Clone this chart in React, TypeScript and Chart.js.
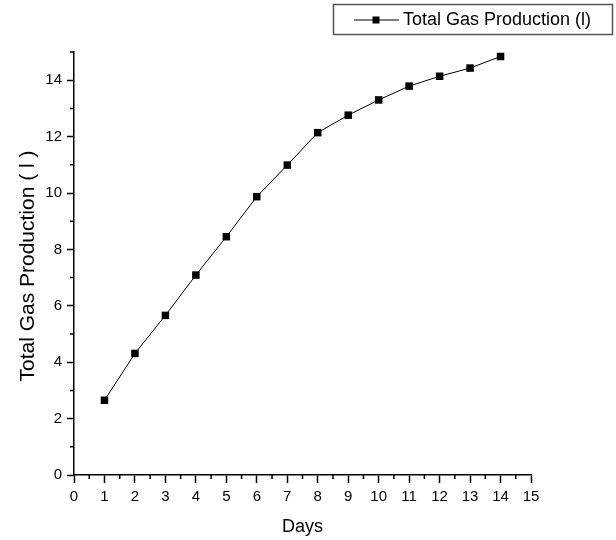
import React, { useEffect, useRef } from "react";
import { Chart, registerables } from "chart.js";

Chart.register(...registerables);

// Cumulative gas volume per day of the run
const days = [1, 2, 3, 4, 5, 6, 7, 8, 9, 10, 11, 12, 13, 14];
const totalGas = [2.65, 4.31, 5.66, 7.09, 8.45, 9.87, 10.99, 12.14, 12.76, 13.3, 13.79, 14.14, 14.43, 14.84];

const xTicks = [0, 1, 2, 3, 4, 5, 6, 7, 8, 9, 10, 11, 12, 13, 14, 15];
const xMinorTicks = [0.5, 1.5, 2.5, 3.5, 4.5, 5.5, 6.5, 7.5, 8.5, 9.5, 10.5, 11.5, 12.5, 13.5, 14.5];
const yTicks = [0, 2, 4, 6, 8, 10, 12, 14];
const yMinorTicks = [1, 3, 5, 7, 9, 11, 13, 15];

const seriesLabel = "Total Gas Production (l)";
const xTitle = "Days";
const yTitle = "Total Gas Production ( l )";

const FONT = '"Liberation Sans", Arial, Helvetica, sans-serif';

// Short outward ticks between the labelled ones, plus axis titles and a boxed legend
const decorations = {
  id: "decorations",
  afterDraw(chart: any) {
    const { ctx, chartArea } = chart;
    const xs = chart.scales.x;
    const ys = chart.scales.y;
    ctx.save();
    ctx.strokeStyle = "#000";
    ctx.lineWidth = 1.5;
    ctx.beginPath();
    for (const v of xMinorTicks) {
      const px = xs.getPixelForValue(v);
      ctx.moveTo(px, chartArea.bottom);
      ctx.lineTo(px, chartArea.bottom + 4);
    }
    for (const v of yMinorTicks) {
      const py = ys.getPixelForValue(v);
      ctx.moveTo(chartArea.left, py);
      ctx.lineTo(chartArea.left - 4, py);
    }
    ctx.stroke();

    ctx.fillStyle = "#000";
    ctx.font = `18px ${FONT}`;
    ctx.textAlign = "center";
    ctx.textBaseline = "alphabetic";
    ctx.fillText(xTitle, (chartArea.left + chartArea.right) / 2, 532);

    ctx.save();
    ctx.translate(34, 266);
    ctx.rotate(-Math.PI / 2);
    ctx.font = `21px ${FONT}`;
    ctx.fillText(yTitle, 0, 0);
    ctx.restore();

    // legend
    const ds = chart.data.datasets[0];
    ctx.strokeStyle = "#555";
    ctx.lineWidth = 1.5;
    ctx.strokeRect(333.5, 4.5, 279, 30);
    ctx.strokeStyle = "#000";
    ctx.lineWidth = 1;
    ctx.beginPath();
    ctx.moveTo(354, 20);
    ctx.lineTo(399, 20);
    ctx.stroke();
    ctx.fillRect(372.5, 16.5, 7, 7);
    ctx.font = `18px ${FONT}`;
    ctx.textAlign = "left";
    ctx.textBaseline = "middle";
    ctx.fillText(ds.label, 403, 20);
    ctx.restore();
  },
};

export default function App() {
  const canvasRef = useRef<HTMLCanvasElement | null>(null);

  useEffect(() => {
    document.body.style.margin = "0";
    const canvas = canvasRef.current;
    if (!canvas) return;
    const chart = new Chart(canvas, {
      type: "line",
      data: {
        datasets: [
          {
            label: seriesLabel,
            data: days.map((d, i) => ({ x: d, y: totalGas[i] })),
            borderColor: "#000",
            borderWidth: 1,
            backgroundColor: "#000",
            pointStyle: "rect",
            pointRadius: 5.3,
            pointBorderWidth: 0,
            pointBackgroundColor: "#000",
            tension: 0,
          },
        ],
      },
      options: {
        responsive: false,
        animation: false,
        devicePixelRatio: 1,
        layout: { padding: { top: 52, right: 85, left: 0, bottom: 0 } },
        plugins: {
          legend: { display: false },
          tooltip: { enabled: false },
        },
        scales: {
          x: {
            type: "linear",
            min: 0,
            max: 15,
            afterBuildTicks: (scale: any) => {
              scale.ticks = xTicks.map((v) => ({ value: v }));
            },
            afterFit: (scale: any) => {
              scale.height = 65;
            },
            ticks: {
              color: "#000",
              font: { family: FONT, size: 15 },
              padding: 5,
              maxRotation: 0,
              autoSkip: false,
              callback: (v: any) => String(v),
            },
            grid: {
              drawOnChartArea: false,
              drawTicks: true,
              tickLength: 8,
              tickColor: "#000",
              tickWidth: 1.5,
            },
            border: { display: true, color: "#000", width: 1.5 },
          },
          y: {
            type: "linear",
            min: 0,
            max: 15,
            afterBuildTicks: (scale: any) => {
              scale.ticks = yTicks.map((v) => ({ value: v }));
            },
            afterFit: (scale: any) => {
              scale.width = 74;
            },
            ticks: {
              color: "#000",
              font: { family: FONT, size: 15 },
              padding: 5,
              autoSkip: false,
              callback: (v: any) => String(v),
            },
            grid: {
              drawOnChartArea: false,
              drawTicks: true,
              tickLength: 7,
              tickColor: "#000",
              tickWidth: 1.5,
            },
            border: { display: true, color: "#000", width: 1.5 },
          },
        },
      },
      plugins: [decorations],
    });
    return () => chart.destroy();
  }, []);

  return <canvas ref={canvasRef} width={616} height={540} style={{ display: "block" }} />;
}
